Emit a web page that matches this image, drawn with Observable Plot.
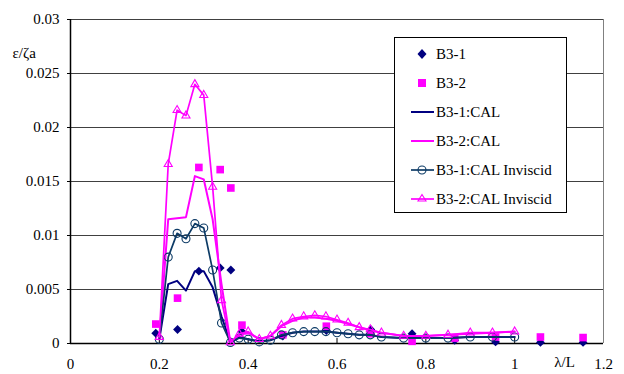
<!DOCTYPE html>
<html>
<head>
<meta charset="utf-8">
<script src="https://cdn.jsdelivr.net/npm/d3@7"></script>
<script src="https://cdn.jsdelivr.net/npm/@observablehq/plot@0.6"></script>
<style>
  html, body { margin: 0; padding: 0; background: #fff; }
  #wrap { position: relative; width: 624px; height: 374px; }
  #legend { position: absolute; left: 394px; top: 37px; width: 173px; height: 176px;
            border: 1px solid #000; background: #fff; font-family: "Liberation Serif", "Times New Roman", serif;
            font-size: 15px; color: #000; box-sizing: border-box; }
  .row { position: absolute; left: 0; height: 20px; }
  .row svg { position: absolute; left: 12px; top: 0; }
  .row span { position: absolute; left: 41px; top: 1px; white-space: nowrap; line-height: 18px; }
</style>
</head>
<body>
<div id="wrap"></div>
<script>
// ---- data ----
const calX = [0.20,0.22,0.24,0.26,0.28,0.30,0.32,0.34,0.36,0.38,0.40,0.425,0.45,0.475,0.50,0.525,0.55,0.575,0.60,0.625,0.65,0.675,0.70,0.75,0.80,0.85,0.90,0.95,1.00];
const b31Cal = [0.0004,0.0055,0.0058,0.0049,0.0067,0.0067,0.0052,0.0025,0.0001,0.0006,0.0004,0.0002,0.0003,0.0007,0.0010,0.0011,0.0011,0.0011,0.0010,0.0009,0.0008,0.0008,0.0006,0.0005,0.0005,0.0005,0.0006,0.0006,0.0006];
const b32Cal = [0.0004,0.0115,0.0116,0.0117,0.0155,0.0152,0.0115,0.0055,0.0001,0.0008,0.0010,0.0004,0.0007,0.0016,0.0021,0.0024,0.0024,0.0023,0.0021,0.0018,0.0015,0.0012,0.0010,0.0007,0.0007,0.0008,0.0009,0.0010,0.0011];
const b31Inv = [0.0004,0.0080,0.0102,0.0097,0.0111,0.0107,0.0068,0.0019,0.0001,0.0005,0.0004,0.00015,0.0003,0.0008,0.0010,0.0011,0.0011,0.0011,0.0010,0.0009,0.0008,0.0008,0.0006,0.0005,0.0005,0.0005,0.0006,0.0006,0.0006];
const b32Inv = [0.0006,0.0166,0.0216,0.0211,0.0240,0.0230,0.0145,0.0040,0.0001,0.0009,0.0011,0.0004,0.0007,0.0017,0.0023,0.0025,0.0026,0.0025,0.0022,0.0019,0.0015,0.0013,0.0010,0.0007,0.0007,0.0008,0.0010,0.0010,0.0011];

const measX = [0.192,0.241,0.289,0.337,0.361,0.386,0.478,0.576,0.676,0.769,0.865,0.957,1.058,1.154];
const b31Meas = [0.00095,0.0013,0.0067,0.0070,0.0068,0.0011,0.0007,0.0012,0.0013,0.0009,0.0003,0.00015,0.0001,0.0001];
const b32Meas = [0.0018,0.0042,0.0163,0.0161,0.0144,0.0017,0.0008,0.0016,0.0009,0.0002,0.0005,0.0006,0.0006,0.00055];

const xTicks = [0,0.2,0.4,0.6,0.8,1.0,1.2];
const yTicks = [0,0.005,0.01,0.015,0.02,0.025,0.03];
const yLabel = "ε/ζa";
const xLabel = "λ/L";
const seriesNames = ["B3-1","B3-2","B3-1:CAL","B3-2:CAL","B3-1:CAL Inviscid","B3-2:CAL Inviscid"];

// ---- build tables ----
const cal = calX.map((x, i) => ({x, b31: b31Cal[i], b32: b32Cal[i], i31: b31Inv[i], i32: b32Inv[i]}));
const meas = measX.map((x, i) => ({x, b31: b31Meas[i], b32: b32Meas[i]}));

const NAVY = "#000080", MAG = "#ff00ff", DBLUE = "#0d3b66";
const fmt = d => String(+d.toFixed(3));

const chart = Plot.plot({
  width: 624, height: 374,
  marginLeft: 70, marginRight: 21, marginTop: 19, marginBottom: 31,
  style: {fontFamily: "'Liberation Serif', 'Times New Roman', serif", fontSize: "15px", color: "#000", background: "#fff"},
  x: {domain: [0, 1.2]},
  y: {domain: [0, 0.03]},
  marks: [
    Plot.gridY(yTicks, {stroke: "#000", strokeOpacity: 0.75, strokeWidth: 1}),
    Plot.axisY(yTicks, {tickFormat: fmt, tickSize: 3, tickPadding: 8, fontSize: 15, label: null}),
    Plot.axisX(xTicks, {tickFormat: fmt, tickSize: 0, tickPadding: 15, fontSize: 15, label: null}),
    Plot.ruleX(xTicks, {x: d => d, y1: 0, y2: 0, insetTop: -5, stroke: "#000"}),
    Plot.ruleX([1.2], {stroke: "#808080"}),
    Plot.ruleY([0], {stroke: "#000", strokeWidth: 1.5}),
    Plot.ruleX([0], {stroke: "#000", strokeWidth: 1.5}),
    Plot.dot(meas, {x: "x", y: "b31", symbol: "diamond2", r: 4, fill: NAVY, stroke: "none"}),
    Plot.dot(meas, {x: "x", y: "b32", symbol: "square", r: 4.3, fill: MAG, stroke: "none"}),
    Plot.line(cal, {x: "x", y: "b31", stroke: NAVY, strokeWidth: 2}),
    Plot.line(cal, {x: "x", y: "b32", stroke: MAG, strokeWidth: 2}),
    Plot.line(cal, {x: "x", y: "i31", stroke: DBLUE, strokeWidth: 1.7}),
    Plot.dot(cal, {x: "x", y: "i31", symbol: "circle", r: 4, fill: "none", stroke: DBLUE, strokeWidth: 1.1}),
    Plot.line(cal, {x: "x", y: "i32", stroke: MAG, strokeWidth: 1.7}),
    Plot.dot(cal, {x: "x", y: "i32", symbol: "triangle", r: 3, fill: "none", stroke: MAG, strokeWidth: 1.1}),
    Plot.text([yLabel], {frameAnchor: "top-left", dx: -58, dy: 28, textAnchor: "start", fontSize: 15}),
    Plot.text([xLabel], {frameAnchor: "bottom-right", dx: -39, dy: 23, textAnchor: "middle", fontSize: 15})
  ]
});

const wrap = document.getElementById("wrap");
wrap.appendChild(chart);

// ---- legend ----
const legend = document.createElement("div");
legend.id = "legend";
const rowsTop = [6, 35, 64, 93, 122, 151];
const symbols = [
  `<circle r="0" /><path d="M15,5 L19.5,10 L15,15 L10.5,10 Z" fill="${NAVY}"/>`,
  `<rect x="11" y="6" width="8" height="8" fill="${MAG}"/>`,
  `<line x1="4" y1="10" x2="27" y2="10" stroke="${NAVY}" stroke-width="2"/>`,
  `<line x1="4" y1="10" x2="27" y2="10" stroke="${MAG}" stroke-width="2"/>`,
  `<line x1="4" y1="10" x2="27" y2="10" stroke="${DBLUE}" stroke-width="1.7"/><circle cx="15" cy="10" r="4" fill="none" stroke="${DBLUE}" stroke-width="1.1"/>`,
  `<line x1="4" y1="10" x2="27" y2="10" stroke="${MAG}" stroke-width="1.7"/><path d="M15,5.5 L19,12 L11,12 Z" fill="none" stroke="${MAG}" stroke-width="1.1"/>`
];
seriesNames.forEach((name, i) => {
  const row = document.createElement("div");
  row.className = "row";
  row.style.top = rowsTop[i] + "px";
  row.innerHTML = `<svg width="30" height="20">${symbols[i]}</svg><span>${name}</span>`;
  legend.appendChild(row);
});
wrap.appendChild(legend);
</script>
</body>
</html>
